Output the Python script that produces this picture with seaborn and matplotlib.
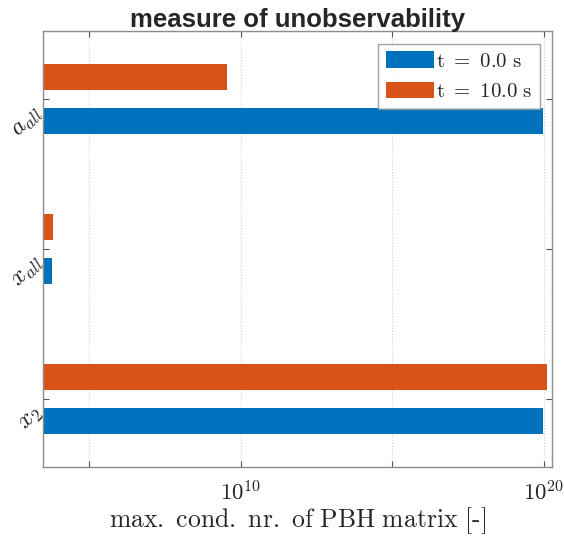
import matplotlib
matplotlib.use("Agg")
import matplotlib.pyplot as plt
import matplotlib.transforms as mtransforms
import seaborn as sns
import pandas as pd

categories = ['$a_{all}$', '$x_{all}$', '$x_{2}$']
series_names = ['t = 0.0 s', 't = 10.0 s']
t0_values = [9.5e19, 5.9e3, 9.5e19]
t10_values = [3.6e9, 6.6e3, 1.2e20]
x_ticks = [1e5, 1e10, 1e15, 1e20]
x_tick_labels = ['', '$10^{10}$', '', '$10^{20}$']
colors = {'t = 0.0 s': '#0072BD', 't = 10.0 s': '#D95319'}

sns.set_theme(style='white')
plt.rcParams['mathtext.fontset'] = 'cm'
plt.rcParams['font.family'] = ['DejaVu Sans']

df = pd.DataFrame({
    'cat': categories * 2,
    'series': [series_names[0]] * 3 + [series_names[1]] * 3,
    'value': t0_values + t10_values,
})

fig = plt.figure(figsize=(5.64, 5.49), dpi=100)
ax = fig.add_axes([43 / 564, (549 - 467) / 549, (552 - 43) / 564, (467 - 31) / 549])

sns.barplot(data=df, y='cat', x='value', hue='series', orient='h',
            order=categories, hue_order=['t = 10.0 s', 't = 0.0 s'],
            palette=colors, width=0.58, gap=0.4,
            saturation=1, ax=ax, edgecolor='none')
ax.set_xscale('log', nonpositive='clip')

ax.set_xlim(10**3.48, 10**20.26)
ax.set_ylim(2.453, -0.453)
ax.set_xticks(x_ticks)
ax.set_xticklabels(x_tick_labels, fontsize=16.5)
ax.minorticks_off()
ax.set_yticks(range(len(categories)))
ax.set_yticklabels([''] * len(categories))

# rotated category labels, offset down-left from each tick
label_tr = mtransforms.blended_transform_factory(ax.transAxes, ax.transData)
label_tr = label_tr + mtransforms.ScaledTranslation(-4 / 100, -10 / 100, fig.dpi_scale_trans)
for i, cat in enumerate(categories):
    ax.text(0, i, cat, transform=label_tr, fontsize=18, rotation=45,
            ha='right', va='center', rotation_mode='anchor', color='#262626')

ax.tick_params(axis='both', direction='in', length=4, width=0.8, color='#555555',
               top=True, right=True, bottom=True, left=True)
ax.tick_params(axis='x', pad=10)
ax.xaxis.grid(True, linestyle=':', color='#d0d0d0', linewidth=0.8)
ax.set_axisbelow(True)
for s in ax.spines.values():
    s.set_color('#8c8c8c')
    s.set_linewidth(1.0)

ax.set_ylabel('')
ax.set_xlabel(r'$\mathrm{max.\ cond.\ nr.\ of\ PBH\ matrix\ [\text{-}]}$', fontsize=18.5, labelpad=0)
ax.set_title('measure of unobservability', fontsize=18.5, fontweight='bold',
             family='Liberation Sans', pad=3)

handles, labels = ax.get_legend_handles_labels()
order = [labels.index('t = 0.0 s'), labels.index('t = 10.0 s')]
ax.legend([handles[i] for i in order],
          [r'$\mathrm{t\ =\ 0.0\ s}$', r'$\mathrm{t\ =\ 10.0\ s}$'],
          loc='upper right', fontsize=15, frameon=True, fancybox=False,
          edgecolor='#8c8c8c', handlelength=2.3, handleheight=0.85,
          handletextpad=0.1, borderpad=0.35, labelspacing=0.5,
          borderaxespad=0.6)
ax.get_legend().get_frame().set_linewidth(1.0)

fig.savefig('out.png', dpi=100)
